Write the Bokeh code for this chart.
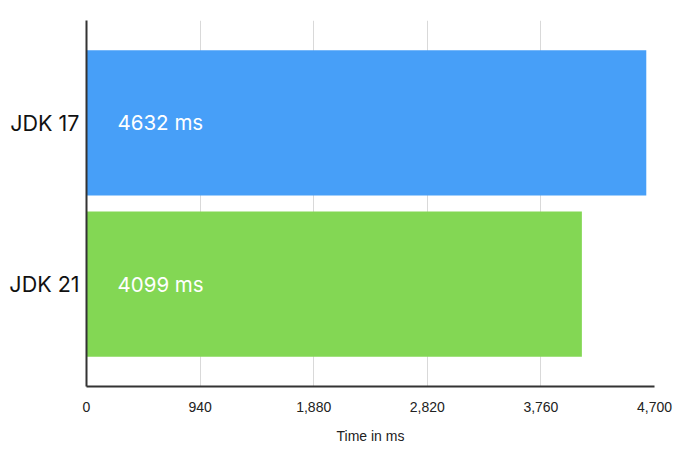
from bokeh.plotting import figure
from bokeh.models import FactorRange, Range1d, FixedTicker, ColumnDataSource
from bokeh.core.properties import value
from bokeh.embed import file_html
from bokeh.resources import INLINE

# Daten
versions = ["JDK 17", "JDK 21"]
times = [4632, 4099]
colors = ["#479ff8", "#83d754"]
labels = ["4632 ms", "4099 ms"]
ticks = [0, 940, 1880, 2820, 3760, 4700]

src = ColumnDataSource(data=dict(version=versions, time=times, color=colors,
                                 label=labels, start=[0] * len(times)))

p = figure(y_range=FactorRange(*reversed(versions), range_padding=0.135),
           x_range=Range1d(0, 4700),
           frame_width=568, frame_height=366,
           min_border_left=86, min_border_top=20, min_border_right=30,
           min_border_bottom=56,
           output_backend="svg", toolbar_location=None,
           x_axis_label="Time in ms")

p.hbar(y="version", right="time", height=0.9, color="color", line_color=None, source=src)

p.text(x="start", y="version", text="label", source=src, x_offset=31,
       text_color="white", text_font=value("Inter"), text_font_size="20.5px",
       text_baseline="middle", text_align="left")

p.outline_line_color = None
p.ygrid.grid_line_color = None
p.xgrid.grid_line_color = "#d9d9d9"
p.xgrid.grid_line_width = 1

p.xaxis.ticker = FixedTicker(ticks=ticks)
p.xaxis.major_label_overrides = {t: f"{t:,}" for t in ticks}
p.xaxis.major_tick_line_color = None
p.xaxis.minor_tick_line_color = None
p.xaxis.axis_line_color = "#333333"
p.xaxis.axis_line_width = 2
p.xaxis.major_label_text_font = "Liberation Sans"
p.xaxis.major_label_text_font_size = "14px"
p.xaxis.major_label_text_color = "#222222"
p.xaxis.major_label_standoff = 9
p.xaxis.axis_label_text_font = "Liberation Sans"
p.xaxis.axis_label_text_font_style = "normal"
p.xaxis.axis_label_text_font_size = "14px"
p.xaxis.axis_label_text_color = "#222222"
p.xaxis.axis_label_standoff = 13

p.yaxis.major_tick_line_color = None
p.yaxis.minor_tick_line_color = None
p.yaxis.axis_line_color = "#333333"
p.yaxis.axis_line_width = 2
p.yaxis.major_label_text_font = "Inter"
p.yaxis.major_label_text_font_size = "21.5px"
p.yaxis.major_label_text_color = "#111111"
p.yaxis.major_label_standoff = 1

open("out.html", "w").write(file_html(p, INLINE))
